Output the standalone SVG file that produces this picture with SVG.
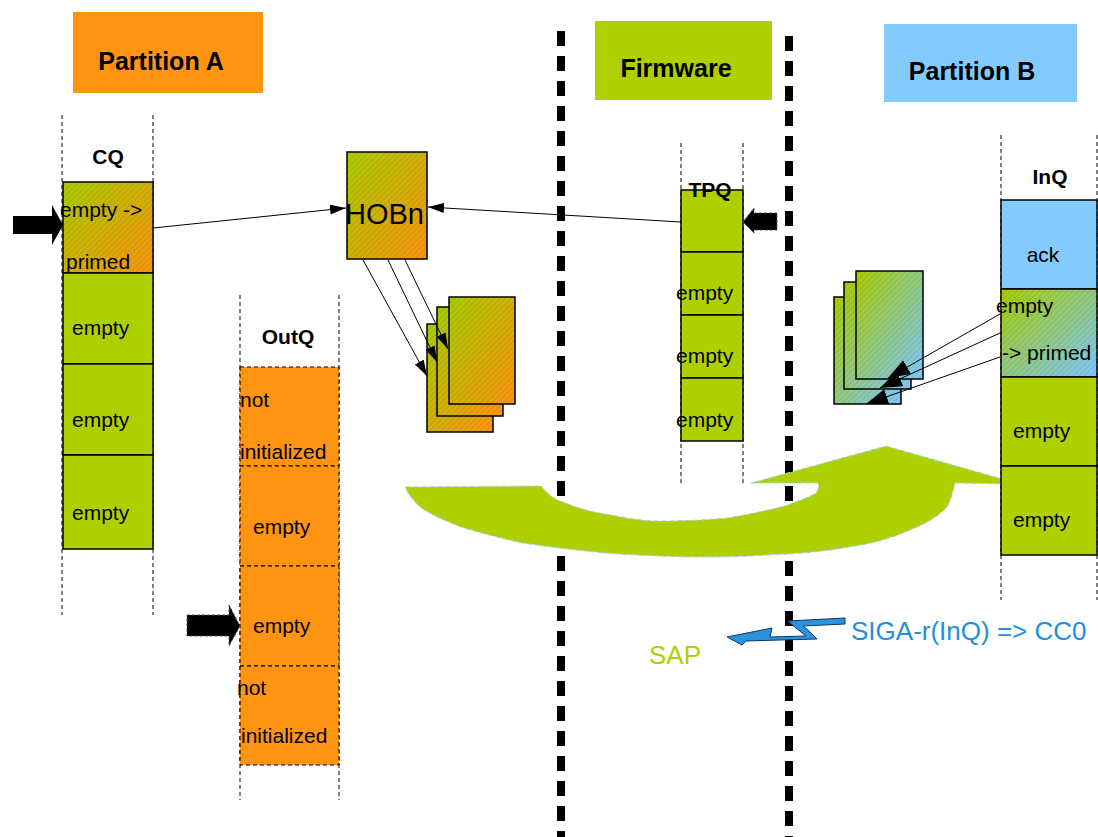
<svg xmlns="http://www.w3.org/2000/svg" width="1098" height="837" viewBox="0 0 1098 837">
<style>
text{font-family:"Liberation Sans",Arial,sans-serif;fill:#000}
.t{font-size:21px}
.h{font-size:21px;font-weight:bold}
.title{font-size:25px;font-weight:bold}
.lane{stroke:#000;stroke-width:1;stroke-dasharray:4 3;fill:none}
.sep{stroke:#000;stroke-width:8;stroke-dasharray:15 10;fill:none}
.g{fill:#afd000;stroke:#000;stroke-width:1.5}
.o{fill:#ff9412;stroke:#000;stroke-width:1;stroke-dasharray:4 3}
.b{fill:#83caff;stroke:#000;stroke-width:1.5}
.hgo{fill:url(#go);stroke:#000;stroke-width:1.5}
.hgb{fill:url(#gb);stroke:#000;stroke-width:1.5}
.hatch{fill:url(#hatch);stroke:none}
.conn{stroke:#000;stroke-width:1;fill:none}
</style>
<defs>
<linearGradient id="go" x1="0" y1="0" x2="1" y2="1">
<stop offset="0" stop-color="#a8cc00"/><stop offset="1" stop-color="#fb9410"/>
</linearGradient>
<linearGradient id="gb" x1="0" y1="0" x2="1" y2="1">
<stop offset="0" stop-color="#a8cc00"/><stop offset="1" stop-color="#7ec8ff"/>
</linearGradient>
<pattern id="hatch" width="4" height="4" patternUnits="userSpaceOnUse" patternTransform="rotate(45)">
<line x1="0" y1="0" x2="0" y2="4" stroke="#000" stroke-opacity="0.18" stroke-width="1"/>
</pattern>
<marker id="ah" viewBox="0 0 16 10" refX="16" refY="5" markerWidth="16" markerHeight="10" markerUnits="userSpaceOnUse" orient="auto">
<path d="M0,0 L16,5 L0,10 Z" fill="#000"/>
</marker>
<marker id="ah2" viewBox="0 0 22 16" refX="22" refY="8" markerWidth="22" markerHeight="16" markerUnits="userSpaceOnUse" orient="auto">
<path d="M0,0 L22,8 L0,16 Z" fill="#000"/>
</marker>
</defs>

<g id="separators">
<line class="sep" x1="561" y1="31" x2="561" y2="837"/>
<line class="sep" x1="789" y1="36" x2="789" y2="837"/>
</g>

<g id="partition-a">
<rect x="73" y="12" width="190" height="81" fill="#ff9412"/>
<text class="title" x="161" y="70" text-anchor="middle">Partition A</text>
</g>
<g id="firmware">
<rect x="595" y="21" width="177" height="79" fill="#afd000"/>
<text class="title" x="676" y="77" text-anchor="middle">Firmware</text>
</g>
<g id="partition-b">
<rect x="884" y="24" width="193" height="78" fill="#83caff"/>
<text class="title" x="972" y="80" text-anchor="middle">Partition B</text>
</g>

<g id="big-arrow">
<path d="M405,487 L541,486 C548,495 556,500 563,502 C580,509 595,513 612,515 C630,519 645,521 661,521 C685,521 705,520 727,518 C750,514 770,510 788,505 C800,500 810,497 816,493 C819,489 819,486 818,483 L751,483 L886,446 L1020,484 L955,483 C953,492 951,500 947,507 C938,517 925,524 910,530 C890,539 870,544 849,547 C822,552 795,554 767,555 C740,557 713,557 686,557 C658,556 631,555 604,553 C576,550 549,547 522,543 C500,538 480,533 461,527 C445,521 430,514 420,507 C413,500 408,494 405,487 Z" fill="#afd000" stroke="#9cd3f5" stroke-width="1" stroke-dasharray="5 3"/>
</g>

<g id="cq">
<line class="lane" x1="62" y1="115" x2="62" y2="615"/>
<line class="lane" x1="153" y1="115" x2="153" y2="615"/>
<text class="h" x="108" y="164" text-anchor="middle">CQ</text>
<rect class="hgo" x="63" y="182" width="90" height="91"/>
<rect class="hatch" x="63" y="182" width="90" height="91"/>
<rect class="g" x="63" y="273" width="90" height="91"/>
<rect class="g" x="63" y="364" width="90" height="91"/>
<rect class="g" x="63" y="455" width="90" height="94"/>
<text class="t" x="60" y="217">empty -&gt;</text>
<text class="t" x="66" y="269">primed</text>
<text class="t" x="72" y="335">empty</text>
<text class="t" x="72" y="427">empty</text>
<text class="t" x="72" y="520">empty</text>
</g>
<g id="cq-pointer">
<path d="M13,216 L52,216 L52,205 L63,225 L52,245 L52,234 L13,234 Z" fill="#000"/>
</g>

<g id="outq">
<line class="lane" x1="240" y1="295" x2="240" y2="800"/>
<line class="lane" x1="339" y1="295" x2="339" y2="800"/>
<text class="h" x="288" y="344" text-anchor="middle">OutQ</text>
<rect class="o" x="240" y="367" width="99" height="99"/>
<rect class="o" x="240" y="466" width="99" height="100"/>
<rect class="o" x="240" y="566" width="99" height="100"/>
<rect class="o" x="240" y="666" width="99" height="99"/>
<text class="t" x="240" y="407">not</text>
<text class="t" x="240" y="459">initialized</text>
<text class="t" x="253" y="534">empty</text>
<text class="t" x="253" y="633">empty</text>
<text class="t" x="237" y="695">not</text>
<text class="t" x="241" y="743">initialized</text>
</g>
<g id="outq-pointer">
<path d="M187,615 L229,615 L229,605 L240,626 L229,646 L229,636 L187,636 Z" fill="#000" stroke="#555" stroke-width="1" stroke-dasharray="3 2"/>
</g>

<g id="hobn">
<rect class="hgo" x="347" y="152" width="80" height="107"/>
<rect class="hatch" x="347" y="152" width="80" height="107"/>
<text x="345" y="224" font-size="29px">HOBn</text>
</g>

<g id="pages-a">
<rect class="hgo" x="427" y="324" width="66" height="108" stroke-width="1.2"/>
<rect class="hatch" x="427" y="324" width="66" height="108"/>
<rect class="hgo" x="437" y="307" width="66" height="109" stroke-width="1.2"/>
<rect class="hatch" x="437" y="307" width="66" height="109"/>
<rect class="hgo" x="449" y="297" width="66" height="107" stroke-width="1.2"/>
<rect class="hatch" x="449" y="297" width="66" height="107"/>
</g>

<g id="tpq">
<line class="lane" x1="681" y1="143" x2="681" y2="483"/>
<line class="lane" x1="743" y1="143" x2="743" y2="483"/>
<rect class="g" x="681" y="190" width="62" height="62"/>
<rect class="g" x="681" y="252" width="62" height="63"/>
<rect class="g" x="681" y="315" width="62" height="63"/>
<rect class="g" x="681" y="378" width="62" height="63"/>
<text class="h" x="710" y="197" text-anchor="middle">TPQ</text>
<text class="t" x="676" y="300">empty</text>
<text class="t" x="676" y="363">empty</text>
<text class="t" x="676" y="427">empty</text>
</g>
<g id="tpq-pointer">
<path d="M777,213 L754,213 L754,208 L743,222 L754,233 L754,230 L777,230 Z" fill="#000" stroke="#555" stroke-width="1" stroke-dasharray="3 2"/>
</g>

<g id="inq">
<line class="lane" x1="1001" y1="135" x2="1001" y2="600"/>
<line class="lane" x1="1097" y1="135" x2="1097" y2="600"/>
<text class="h" x="1050" y="184" text-anchor="middle">InQ</text>
<rect class="b" x="1001" y="200" width="96" height="89"/>
<rect class="hgb" x="1001" y="289" width="96" height="88"/>
<rect class="hatch" x="1001" y="289" width="96" height="88"/>
<rect class="g" x="1001" y="377" width="96" height="89"/>
<rect class="g" x="1001" y="466" width="96" height="89"/>
<text class="t" x="1043" y="262" text-anchor="middle">ack</text>
<text class="t" x="996" y="313">empty</text>
<text class="t" x="1002" y="360">-&gt; primed</text>
<text class="t" x="1013" y="438">empty</text>
<text class="t" x="1013" y="527">empty</text>
</g>

<g id="pages-b">
<rect class="hgb" x="834" y="297" width="67" height="107" stroke-width="1.2"/>
<rect class="hatch" x="834" y="297" width="67" height="107"/>
<rect class="hgb" x="844" y="282" width="67" height="107" stroke-width="1.2"/>
<rect class="hatch" x="844" y="282" width="67" height="107"/>
<rect class="hgb" x="856" y="271" width="67" height="108" stroke-width="1.2"/>
<rect class="hatch" x="856" y="271" width="67" height="108"/>
</g>

<g id="connectors">
<line class="conn" x1="153" y1="228" x2="346" y2="208" marker-end="url(#ah)"/>
<line class="conn" x1="681" y1="222" x2="428" y2="207" marker-end="url(#ah)"/>
<line class="conn" x1="363" y1="260" x2="427" y2="376" marker-end="url(#ah)"/>
<line class="conn" x1="388" y1="260" x2="437" y2="362" marker-end="url(#ah)"/>
<line class="conn" x1="405" y1="260" x2="448" y2="349" marker-end="url(#ah)"/>
<line class="conn" x1="1000" y1="314" x2="888" y2="378" marker-end="url(#ah2)"/>
<line class="conn" x1="1000" y1="333" x2="880" y2="388" marker-end="url(#ah2)"/>
<line class="conn" x1="1000" y1="357" x2="866" y2="404" marker-end="url(#ah2)"/>
</g>

<g id="sap-signal">
<path d="M845,618 L788,621 L796,628 L806,636 L770,637 L772,628 L727,637 L742,645 L746,641 L817,639 L808,630 L803,626 L845,624 Z" fill="#2b93e0" stroke="#0a3a66" stroke-width="1"/>
<text x="851" y="640" font-size="26px" style="fill:#1e90dd">SIGA-r(InQ) =&gt; CC0</text>
<text x="649" y="664" font-size="26px" style="fill:#afd000">SAP</text>
</g>
</svg>
